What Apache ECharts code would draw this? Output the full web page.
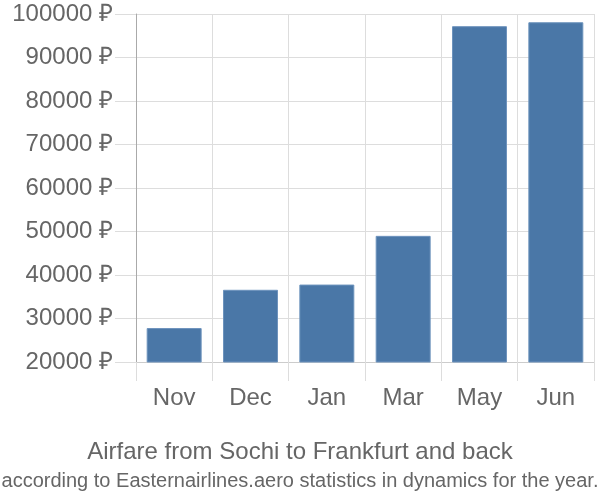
<!DOCTYPE html>
<html><head><meta charset="utf-8">
<script src="https://cdn.jsdelivr.net/npm/echarts@6/dist/echarts.min.js"></script>
<style>html,body{margin:0;padding:0;background:#fff}#c{width:600px;height:500px}</style>
</head><body><div id="c"></div>
<script>
const categories = ["Nov", "Dec", "Jan", "Mar", "May", "Jun"];
const prices = [27800, 36600, 37800, 49000, 97200, 98100];
const yTicks = [20000, 30000, 40000, 50000, 60000, 70000, 80000, 90000, 100000];
const titleText = "Airfare from Sochi to Frankfurt and back";
const subtitleText = "according to Easternairlines.aero statistics in dynamics for the year.";

const chart = echarts.init(document.getElementById('c'));
chart.setOption({
  animation: false,
  textStyle: {fontFamily: 'Liberation Sans'},
  title: [
    {text: titleText, left: 'center', top: 435, textStyle: {fontSize: 24, fontWeight: 'normal', color: '#666', fontFamily: 'Liberation Sans'}},
    {text: subtitleText, left: 'center', top: 466, textStyle: {fontSize: 20, fontWeight: 'normal', color: '#666', fontFamily: 'Liberation Sans'}}
  ],
  grid: {left: 136, right: 6, top: 14, bottom: 138, containLabel: false},
  xAxis: {
    type: 'category', data: categories,
    axisLine: {show: true, lineStyle: {color: '#ccc', width: 1}},
    axisTick: {show: true, length: 19, lineStyle: {color: '#ddd'}},
    splitLine: {show: true, lineStyle: {color: '#ddd'}},
    axisLabel: {fontSize: 24, color: '#666', margin: 24}
  },
  yAxis: {
    type: 'value', min: yTicks[0], max: yTicks[yTicks.length - 1], interval: 10000,
    axisLine: {show: true, lineStyle: {color: '#aaa', width: 1}},
    axisTick: {show: true, length: 21, lineStyle: {color: '#ddd'}},
    splitLine: {show: true, lineStyle: {color: '#ddd'}},
    axisLabel: {fontSize: 24, color: '#666', margin: 23, formatter: v => v + ' ₽'}
  },
  series: [{
    type: 'bar', data: prices, barCategoryGap: '28%',
    itemStyle: {color: '#4a77a7', borderColor: '#6d93bd', borderWidth: 1}
  }]
});
</script></body></html>
